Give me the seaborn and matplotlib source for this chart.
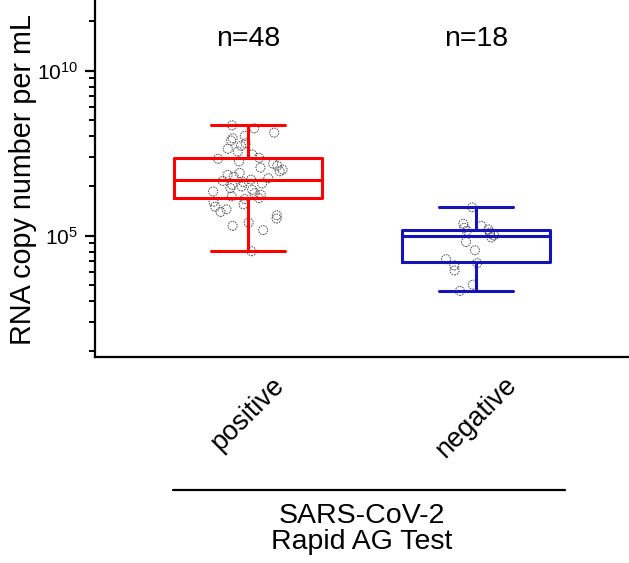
import numpy as np
import pandas as pd
import matplotlib
matplotlib.use("Agg")
import matplotlib.pyplot as plt
from matplotlib.lines import Line2D
from matplotlib.ticker import FixedLocator, NullFormatter
import seaborn as sns

# ---- data (log10 RNA copies per mL) ----
categories = ["positive", "negative"]
positive_log10 = [4.53, 5.17, 5.30, 5.40, 5.52, 5.62, 5.72, 5.80, 5.88, 5.95, 6.03, 6.11,
                  6.14, 6.19, 6.24, 6.29, 6.34, 6.39, 6.44, 6.49, 6.54, 6.58, 6.62, 6.66,
                  6.70, 6.74, 6.79, 6.84, 6.90, 6.95, 7.00, 7.06, 7.12, 7.18, 7.25, 7.33,
                  7.36, 7.46, 7.55, 7.63, 7.72, 7.80, 7.88, 7.95, 8.02, 8.12, 8.25, 8.34]
negative_log10 = [3.33, 3.52, 3.95, 4.10, 4.17, 4.29, 4.56, 4.81, 4.95,
                  5.01, 5.06, 5.10, 5.15, 5.19, 5.24, 5.30, 5.36, 5.86]
n_labels = ["n=48", "n=18"]
colors = {"positive": "#ff0000", "negative": "#1414b8"}

df = pd.DataFrame({
    "group": ["positive"] * len(positive_log10) + ["negative"] * len(negative_log10),
    "copies": [10 ** v for v in positive_log10 + negative_log10],
})

sns.set_style("ticks")
plt.rcParams["font.family"] = ["Liberation Sans", "DejaVu Sans"]
plt.rcParams["mathtext.fontset"] = "custom"
plt.rcParams["mathtext.rm"] = "Liberation Sans"
plt.rcParams["mathtext.it"] = "Liberation Sans:italic"
for key in ["text.color", "axes.labelcolor", "xtick.color", "ytick.color",
            "axes.edgecolor", "xtick.labelcolor", "ytick.labelcolor"]:
    plt.rcParams[key] = "black"

fig = plt.figure(figsize=(6.29, 5.63), dpi=100)
ax = fig.add_axes([95 / 629, 1 - 357 / 563, 1 - 95 / 629, 357 / 563 - 0.002])
ax.set_yscale("log")

np.random.seed(3)
sns.stripplot(data=df, x="group", y="copies", order=categories, jitter=0.16,
              size=6.5, color="0.35", ax=ax, zorder=1)
for coll in ax.collections:
    coll.set_facecolor("none")
    coll.set_edgecolor("0.3")
    coll.set_linewidth(0.7)
    coll.set_linestyle((0, (1.6, 1.0)))

sns.boxplot(data=df, x="group", y="copies", order=categories, hue="group",
            palette=colors, fill=False, whis=(0, 100), width=0.65,
            linewidth=2.2, showfliers=False, legend=False, ax=ax)

ax.set_xlim(-0.67, 1.67)
ax.set_ylim(10 ** 1.33, 10 ** 12.1)

ax.yaxis.set_major_locator(FixedLocator([1e5, 1e10]))
minor = []
for k in range(0, 3):
    for m in range(2, 10):
        minor.append(10 ** (5 * np.log10(m) + 5 * k))
ax.yaxis.set_minor_locator(FixedLocator(minor))
ax.yaxis.set_minor_formatter(NullFormatter())

for s in ["top", "right"]:
    ax.spines[s].set_visible(False)
for s in ["left", "bottom"]:
    ax.spines[s].set_linewidth(1.6)
    ax.spines[s].set_color("black")

ax.tick_params(axis="y", which="major", length=7, width=1.6, labelsize=15, pad=5,
               color="black", labelcolor="black")
ax.tick_params(axis="y", which="minor", length=4, width=1.4, color="black")
ax.tick_params(axis="x", length=0, pad=11, labelsize=19.5, labelcolor="black")
for lab in ax.get_xticklabels():
    lab.set_rotation(45)
    lab.set_ha("center")
    lab.set_va("top")

ax.set_xlabel("")
ax.set_ylabel("RNA copy number per mL", fontsize=20.7, color="black")
ax.yaxis.set_label_coords((37 - 95) / 534, 0.5)

for i, t in enumerate(n_labels):
    ax.text(i, 0.894, t, transform=ax.get_xaxis_transform(), ha="center",
            va="center", fontsize=20.5, color="black")

fig.add_artist(Line2D([173 / 629, 565 / 629], [1 - 490 / 563] * 2,
                      color="k", lw=1.6))
fig.text(362 / 629, 1 - 516 / 563, "SARS-CoV-2", ha="center", va="center",
         fontsize=20.5, color="black")
fig.text(362 / 629, 1 - 542 / 563, "Rapid AG Test", ha="center", va="center",
         fontsize=20.5, color="black")

fig.savefig("out.png", dpi=100)
